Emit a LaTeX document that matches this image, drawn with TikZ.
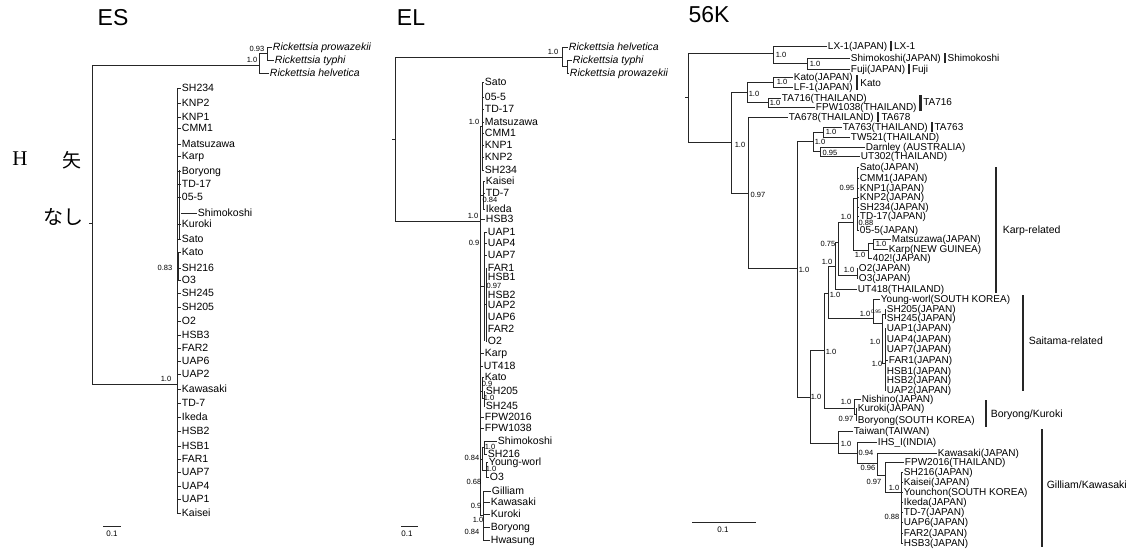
\documentclass[tikz,border=0pt]{standalone}
\usepackage{fontspec}
\setmainfont{Liberation Sans}
\newfontfamily\jpf{Noto Sans CJK JP}
\newfontfamily\serf{Liberation Serif}
\usetikzlibrary{calc}
\newcommand\lfa{\fontsize{10.5}{11}\selectfont}
\newcommand\lfb{\fontsize{10}{11}\selectfont}
\newcommand\bsf{\fontsize{7.5}{8}\selectfont}
\tikzset{
 br/.style={line width=0.75pt, draw=black!85},
 lf/.style={font=\lfa, anchor=west, inner sep=0.6pt, text height=7.6pt, text depth=0pt},
 lk/.style={lf, font=\lfb, text height=7.2pt},
 itl/.style={lf, font=\lfa\itshape},
 bs/.style={font=\bsf, inner sep=0pt, text height=5.5pt, text depth=0pt},
 bst/.style={font=\fontsize{5}{5}\selectfont, inner sep=0pt},
 ttl/.style={font=\fontsize{23}{24}\selectfont, inner sep=0pt},
 cbar/.style={line width=2.2pt, draw=black!85},
}
\begin{document}
\begin{tikzpicture}[x=1pt,y=-1pt]
\useasboundingbox (0,0) rectangle (1135,555);
\fill[white] (0,0) rectangle (1135,555);

% ================= ES =================
\node[ttl] (tES) at (113,18) {ES};
\node[font=\serf\fontsize{21}{22}\selectfont, inner sep=0pt] (jH) at (20,159) {H};
\node[font=\jpf\fontsize{19}{20}\selectfont, inner sep=0pt] (jY) at (72,160) {矢};
\node[font=\jpf\fontsize{20}{21}\selectfont, inner sep=0pt] (jN) at (63,217) {なし};

\draw[br] (89,223) -- (92,223);
\draw[br] (92,65) -- (92,384);
\draw[br] (92,65) -- (259,65);
\draw[br] (259,53) -- (259,73);
\draw[br] (259,53) -- (267,53);
\draw[br] (267,47) -- (267,60);
\draw[br] (267,47) -- (272,47) node[itl] (esRp) {Rickettsia prowazekii};
\draw[br] (267,60) -- (274,60) node[itl] (esRt) {Rickettsia typhi};
\draw[br] (259,73) -- (269,73) node[itl] (esRh) {Rickettsia helvetica};
\draw[br] (92,384) -- (177,384);
\draw[br] (177,88) -- (177,513);
\draw[br] (179.5,170) -- (179.5,239);
\draw[br, line width=1.4pt] (178.5,252) -- (178.5,280);
\foreach \tx/\y in {SH234/88, KNP2/103, KNP1/117, CMM1/128, Matsuzawa/144, Karp/156,
  Boryong/171, TD-17/184, 05-5/197, Kuroki/224, Sato/239, Kato/252, SH216/268, O3/280,
  SH245/293, SH205/307, O2/321, HSB3/335, FAR2/348, UAP6/361, UAP2/374, Kawasaki/389,
  TD-7/403, Ikeda/417, HSB2/431, HSB1/446, FAR1/459, UAP7/472, UAP4/486, UAP1/499, Kaisei/513}
  {\draw[br] (177,\y) -- (181,\y) node[lf] (es\y) {\tx};}
\draw[br] (181,213) -- (197,213) node[lf] (esShimo) {Shimokoshi};
\node[bs] (esb1) at (257,49) {0.93};
\node[bs] (esb2) at (252,60) {1.0};
\node[bs] (esb3) at (166,379) {1.0};
\node[bs] (esb4) at (165,268) {0.83};
\draw[br] (103,526) -- (121,526);
\node[bs, font=\fontsize{8}{9}\selectfont] (esS) at (112,534) {0.1};

% ================= EL =================
\node[ttl] (tEL) at (411,18) {EL};
\draw[br] (392,139) -- (395,139);
\draw[br] (395,57) -- (395,221);
\draw[br] (395,57) -- (562,57);
\draw[br] (562,47) -- (562,66);
\draw[br] (562,47) -- (568,47) node[itl] (elRh) {Rickettsia helvetica};
\draw[br] (562,66) -- (567,66);
\draw[br] (567,60) -- (567,73);
\draw[br] (567,60) -- (572,60) node[itl] (elRt) {Rickettsia typhi};
\draw[br] (567,73) -- (569,73) node[itl] (elRp) {Rickettsia prowazekii};
\draw[br] (395,221) -- (480,221);
\draw[br] (480,126) -- (480,515);
% clade A
\draw[br] (480,126) -- (482,126);
\draw[br] (482,82) -- (482,170);
\foreach \tx/\y in {Sato/82, 05-5/97, TD-17/109, Matsuzawa/122, CMM1/133, KNP1/145, KNP2/157, SH234/170}
  {\draw[br] (482,\y) -- (484,\y) node[lf] (el\y) {\tx};}
% clade B
\draw[br] (480,195) -- (483,195);
\draw[br] (483,181) -- (483,209);
\foreach \tx/\y in {Kaisei/181, TD-7/193, Ikeda/209}
  {\draw[br] (483,\y) -- (485,\y) node[lf] (el\y) {\tx};}
\draw[br] (480,219) -- (485,219) node[lf] (el219) {HSB3};
% clade C
\draw[br] (480,286) -- (484,286);
\draw[br] (484,232) -- (484,341);
\foreach \tx/\y in {UAP1/232, UAP4/243, UAP7/255}
  {\draw[br] (484,\y) -- (487,\y) node[lf] (el\y) {\tx};}
\draw[br] (484,304) -- (486,304);
\draw[br] (486,268) -- (486,341);
\foreach \tx/\y in {FAR1/268, HSB1/277, HSB2/295, UAP2/305, UAP6/317, FAR2/329, O2/341}
  {\draw[br] (486,\y) -- (487,\y) node[lf] (el\y) {\tx};}
\draw[br] (480,353) -- (484,353) node[lf] (el353) {Karp};
\draw[br] (480,366) -- (483,366) node[lf] (el366) {UT418};
% clade D
\draw[br] (480,391) -- (482,391);
\draw[br] (482,377) -- (482,398);
\draw[br] (482,377) -- (484,377) node[lf] (el377) {Kato};
\draw[br] (482,398) -- (484,398);
\draw[br] (484,391) -- (484,406);
\draw[br] (484,391) -- (485,391) node[lf] (el391) {SH205};
\draw[br] (484,406) -- (485,406) node[lf] (el406) {SH245};
\draw[br] (480,417) -- (484,417) node[lf] (el417) {FPW2016};
\draw[br] (480,428) -- (484,428) node[lf] (el428) {FPW1038};
% clade E
\draw[br] (480,459) -- (482,459);
\draw[br] (482,447) -- (482,470);
\draw[br] (482,447) -- (484,447);
\draw[br] (484,441) -- (484,454);
\draw[br] (484,441) -- (497,441) node[lf] (el441) {Shimokoshi};
\draw[br] (484,454) -- (487,454) node[lf] (el454) {SH216};
\draw[br] (482,470) -- (486,470);
\draw[br] (486,462) -- (486,477);
\draw[br] (486,462) -- (488,462) node[lf] (el462) {Young-worl};
\draw[br] (486,477) -- (489,477) node[lf] (el477) {O3};
% clade F
\draw[br] (480,515) -- (483,515);
\draw[br] (483,491) -- (483,540);
\draw[br] (483,491) -- (491,491) node[lf] (el491) {Gilliam};
\foreach \tx/\y in {Kawasaki/502, Kuroki/514, Boryong/527, Hwasung/540}
  {\draw[br] (483,\y) -- (490,\y) node[lf] (el\y) {\tx};}
\foreach \x/\y/\tx [count=\i] in {553/52/1.0, 473/216/1.0, 474/122/1.0, 490/200/0.84,
  474/243/0.9, 494/286/0.97, 487/384/0.9, 489/398/1.0, 490/447/1.0, 472/458/0.84,
  491/469/1.0, 474/482/0.68, 476/506/0.9, 478/520/1.0, 472/532/0.84}
  {\node[bs] (elb\i) at (\x,\y) {\tx};}
\draw[br] (401,526) -- (418,526);
\node[bs, font=\fontsize{8}{9}\selectfont] (elS) at (407,534) {0.1};

% ================= 56K =================
\node[ttl] (t56) at (709,15) {56K};
\draw[br] (685,97.5) -- (688,97.5);
\draw[br] (688,53) -- (688,142);
\draw[br] (688,53) -- (773,53);
\draw[br] (773,46) -- (773,63);
\draw[br] (773,63) -- (807,63);
\draw[br] (807,58) -- (807,69);
\draw[br] (688,142) -- (731,142);
\draw[br] (731,92) -- (731,193);
\draw[br] (731,92) -- (747,92);
\draw[br] (747,82) -- (747,102);
\draw[br] (747,82) -- (773,82);
\draw[br] (773,77) -- (773,87);
\draw[br] (747,102) -- (768,102);
\draw[br] (768,98) -- (768,107);
\draw[br] (731,193) -- (748,193);
\draw[br] (748,117) -- (748,268);
\draw[br] (748,268) -- (797,268);
\draw[br] (797,141) -- (797,397);
\draw[br] (797,141) -- (813,141);
\draw[br] (813,132) -- (813,151);
\draw[br] (813,132) -- (823,132);
\draw[br] (823,127) -- (823,137);
\draw[br] (813,151) -- (820,151);
\draw[br] (820,147) -- (820,156);
\draw[br] (797,397) -- (810,397);
% N5
\draw[br] (810,350) -- (810,443);
\draw[br] (810,350) -- (824,350);
% Q
\draw[br] (824,293) -- (824,408);
\draw[br] (824,293) -- (828,293);
% KS
\draw[br] (828,266) -- (828,318);
\draw[br] (828,266) -- (835,266);
% KU
\draw[br] (835,242) -- (835,289);
\draw[br] (835,242) -- (838,242);
% KR
\draw[br] (838,222) -- (838,275);
\draw[br] (838,222) -- (853,222);
% K0
\draw[br] (853,198) -- (853,250);
\draw[br] (853,198) -- (857,198);
\draw[br] (857,167) -- (857,230);
\draw[br] (853,250) -- (868,250);
\draw[br] (868,243) -- (868,258);
\draw[br] (868,243) -- (873,243);
\draw[br] (873,239) -- (873,249);
\draw[br] (838,275) -- (857,275);
\draw[br] (857,268) -- (857,278);
% Saitama
\draw[br] (828,318) -- (873,318);
\draw[br] (873,299) -- (873,323);
\draw[br] (873,323) -- (882,323);
\draw[br] (882,314) -- (882,363);
\draw[br] (882,314) -- (885,314);
\draw[br] (885,309) -- (885,318);
\draw[br] (882,363) -- (885,363);
\draw[br] (885,328) -- (885,390);
% Boryong / Kuroki
\draw[br] (824,408) -- (854,408);
\draw[br] (854,399) -- (854,414);
\draw[br] (854,414) -- (856,414);
\draw[br] (856,408) -- (856,420);
% Gilliam / Kawasaki
\draw[br] (810,443) -- (838,443);
\draw[br] (838,431) -- (838,453);
\draw[br] (838,453) -- (857,453);
\draw[br] (857,442) -- (857,463);
\draw[br] (857,463) -- (877,463);
\draw[br] (877,453) -- (877,475);
\draw[br] (877,475) -- (885,475);
\draw[br] (885,462) -- (885,492);
\draw[br] (885,492) -- (901,492);
\draw[br] (901,472) -- (901,543);
\foreach \xa/\xb/\y/\tx in {773/827/46/LX-1(JAPAN), 807/850/58/Shimokoshi(JAPAN),
  807/850/69/Fuji(JAPAN), 773/793/77/Kato(JAPAN), 773/793/87/LF-1(JAPAN),
  768/781/98/TA716(THAILAND), 768/815/107/FPW1038(THAILAND), 748/788/117/TA678(THAILAND),
  823/842/127/TA763(THAILAND), 823/850/137/TW521(THAILAND), 820/865/147/Darnley (AUSTRALIA),
  820/860/156/UT302(THAILAND), 857/859/167/Sato(JAPAN), 857/859/178/CMM1(JAPAN),
  857/859/188/KNP1(JAPAN), 857/859/197/KNP2(JAPAN), 857/859/207/SH234(JAPAN),
  857/859/216/TD-17(JAPAN), 857/859/230/05-5(JAPAN), 873/891/239/Matsuzawa(JAPAN),
  873/888/249/Karp(NEW GUINEA), 868/872/258/402!(JAPAN), 857/858/268/O2(JAPAN),
  857/858/278/O3(JAPAN), 835/857/289/UT418(THAILAND), 873/880/299/Young-worl(SOUTH KOREA),
  885/886/309/SH205(JAPAN), 885/886/318/SH245(JAPAN), 885/886/328/UAP1(JAPAN),
  885/886/339/UAP4(JAPAN), 885/886/349/UAP7(JAPAN), 885/888/360/FAR1(JAPAN),
  885/886/371/HSB1(JAPAN), 885/886/380/HSB2(JAPAN), 885/886/390/UAP2(JAPAN),
  854/861/399/Nishino(JAPAN), 856/857/408/Kuroki(JAPAN), 856/857/420/Boryong(SOUTH KOREA),
  838/853/431/Taiwan(TAIWAN), 857/877/442/IHS\_I(INDIA), 877/937/453/Kawasaki(JAPAN),
  885/904/462/FPW2016(THAILAND), 901/903/472/SH216(JAPAN), 901/903/482/Kaisei(JAPAN),
  901/903/492/Younchon(SOUTH KOREA), 901/903/502/Ikeda(JAPAN), 901/903/512/TD-7(JAPAN),
  901/903/522/UAP6(JAPAN), 901/903/533/FAR2(JAPAN), 901/903/543/HSB3(JAPAN)}
  {\draw[br] (\xa,\y) -- (\xb,\y) node[lk] (k\y) {\tx};}
\foreach \x/\y/\tx [count=\i] in {781/55/1.0, 815/63.5/1.0, 782/82/1.0, 754/94/1.0,
  775/102.5/1.0, 740/145/1.0, 758/195/0.97, 831/132/1.0, 820/141.5/1.0, 830/153/0.95,
  804/270/1.0, 816/397/1.0, 831/352/1.0, 835/295/1.0, 827/262/1.0, 828/244/0.75,
  846/217/1.0, 847/188/0.95, 866/223/0.88, 860/255/1.0, 881/244/1.0, 849/270/1.0,
  865/314/1.0, 875/342/1.0, 877/364/1.0, 846/402/1.0, 846/419/0.97, 846/444/1.0,
  866/453/0.94, 868/468/0.96, 874/482/0.97, 894/488/1.0, 892/517/0.88}
  {\node[bs] (kb\i) at (\x,\y) {\tx};}
\node[bst] (kbt) at (876,312) {0.95};
% clade marks
\draw[cbar] ($(k46.east)+(3,-5)$) -- ($(k46.east)+(3,5)$);
\node[lk] (cLX) at ($(k46.east)+(5,0)$) {LX-1};
\draw[cbar] ($(k58.east)+(3,-5)$) -- ($(k58.east)+(3,5)$);
\node[lk] (cSh) at ($(k58.east)+(5,0)$) {Shimokoshi};
\draw[cbar] ($(k69.east)+(3,-5)$) -- ($(k69.east)+(3,5)$);
\node[lk] (cFu) at ($(k69.east)+(5,0)$) {Fuji};
\draw[cbar] ($(k77.east)+(3,-2)$) -- ($(k77.east)+(3,13)$);
\node[lk] (cKa) at ($(k77.east)+(6,6)$) {Kato};
\draw[cbar] ($(k107.east)+(3,-12)$) -- ($(k107.east)+(3,4)$);
\node[lk] (cTA1) at ($(k107.east)+(5,-5)$) {TA716};
\draw[cbar] ($(k117.east)+(3,-5)$) -- ($(k117.east)+(3,5)$);
\node[lk] (cTA2) at ($(k117.east)+(6,0)$) {TA678};
\draw[cbar] ($(k127.east)+(3,-5)$) -- ($(k127.east)+(3,5)$);
\node[lk] (cTA3) at ($(k127.east)+(5,0)$) {TA763};
\draw[cbar] (996,167) -- (996,293);
\node[lf] (cKarp) at (1002,230) {Karp-related};
\draw[cbar] (1023,295) -- (1023,391);
\node[lf] (cSai) at (1028,341) {Saitama-related};
\draw[cbar] (986,400) -- (986,427);
\node[lf] (cBor) at (990,414) {Boryong/Kuroki};
\draw[cbar] (1042,429) -- (1042,547);
\node[lf] (cGil) at (1046,485) {Gilliam/Kawasaki};
\draw[br] (692,522) -- (756,522);
\node[bs, font=\fontsize{8}{9}\selectfont] (kS) at (723,530) {0.1};
\end{tikzpicture}
\end{document}
